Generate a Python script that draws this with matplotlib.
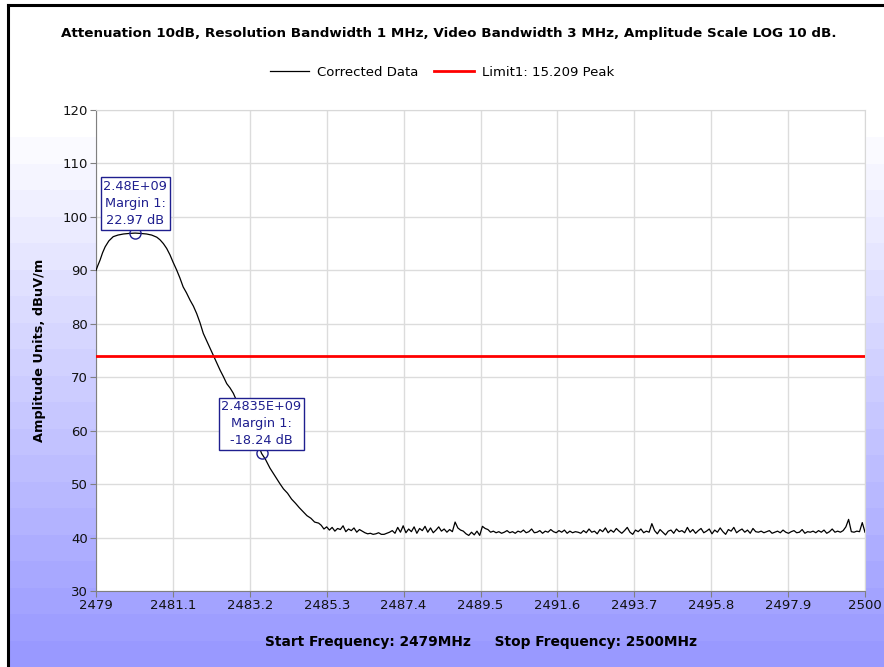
import numpy as np
import matplotlib
matplotlib.use("Agg")
import matplotlib.pyplot as plt
from matplotlib.lines import Line2D

# sweep settings
start_mhz = 2479.0
stop_mhz = 2500.0
x_ticks = [2479, 2481.1, 2483.2, 2485.3, 2487.4, 2489.5, 2491.6, 2493.7, 2495.8, 2497.9, 2500]
x_tick_labels = ["2479", "2481.1", "2483.2", "2485.3", "2487.4", "2489.5",
                 "2491.6", "2493.7", "2495.8", "2497.9", "2500"]
y_ticks = [30, 40, 50, 60, 70, 80, 90, 100, 110, 120]

limit_level = 74.0

# band edge roll-off
rolloff_freq = [2479.0, 2479.05, 2479.11, 2479.18, 2479.25, 2479.35, 2479.47, 2479.6, 2479.75,
                2479.9, 2480.07, 2480.22, 2480.38, 2480.52, 2480.66, 2480.75, 2480.84, 2480.93,
                2481.02, 2481.1, 2481.2, 2481.29, 2481.38, 2481.47, 2481.57, 2481.66, 2481.75,
                2481.84, 2481.93, 2482.05, 2482.2, 2482.3, 2482.39, 2482.48, 2482.57, 2482.66,
                2482.75, 2482.84, 2482.93, 2483.02, 2483.12, 2483.21, 2483.3, 2483.41, 2483.52,
                2483.63, 2483.75, 2483.88, 2484.02, 2484.12, 2484.23, 2484.34, 2484.45, 2484.55,
                2484.66, 2484.76, 2484.87, 2484.97, 2485.08]
rolloff_level = [90.0, 90.9, 91.9, 93.3, 94.4, 95.5, 96.3, 96.6, 96.8,
                 96.9, 96.97, 96.9, 96.8, 96.6, 96.2, 95.7, 95.0, 94.1,
                 92.9, 91.6, 90.1, 88.6, 86.9, 85.8, 84.4, 83.3, 81.9,
                 80.2, 78.2, 76.4, 74.2, 72.6, 71.3, 70.1, 68.8, 68.0,
                 67.0, 65.6, 64.5, 63.5, 62.3, 60.7, 59.5, 57.9, 55.76,
                 54.6, 53.0, 51.6, 50.1, 49.1, 48.3, 47.2, 46.4, 45.6,
                 44.8, 44.1, 43.6, 42.9, 42.7]

# noise floor, 2485.15 .. 2500 MHz
floor_level = [
    42.3, 41.6, 42.0, 41.4, 41.9, 41.2, 41.7, 41.5, 42.2, 41.1, 41.6, 41.3, 41.8, 41.0, 41.5, 41.2,
    40.9, 40.7, 40.8, 40.6, 40.7, 40.9, 40.6, 40.6, 40.8, 41.0,
    41.3, 40.8, 41.9, 41.0, 42.2, 40.9, 41.6, 41.1, 42.0, 40.8, 41.7, 41.3, 42.1, 41.0, 41.8, 40.9,
    41.4, 42.0, 41.2, 41.6, 41.0, 41.5, 41.1, 42.9,
    41.8, 41.4, 41.2, 40.7, 40.4, 41.0, 40.5, 41.2, 40.4, 42.1, 41.7,
    41.5, 41.0, 41.2, 40.9, 41.1, 40.8, 41.0, 41.3, 40.9, 41.1, 40.8, 41.2, 41.0, 41.4, 40.9, 41.1,
    41.6, 40.9, 41.0, 41.3, 40.8, 41.2, 41.0, 41.5, 41.1, 40.9, 41.3, 41.0, 41.4, 40.8, 41.2, 40.9,
    41.1, 41.0,
    40.8, 41.3, 40.9, 41.6, 41.0, 41.2, 40.7, 41.5, 41.1, 41.8,
    40.9, 41.4, 41.0, 41.7, 41.2, 40.8, 41.3, 41.9, 41.0, 40.6,
    41.4, 41.1, 41.6, 40.9, 41.2, 41.0, 42.6, 41.3, 40.7, 41.5,
    41.0, 40.5, 41.2, 41.4, 40.8, 41.6, 41.1, 41.3, 40.9, 41.9,
    41.0, 41.5, 40.8, 41.3, 41.7, 40.9, 41.2, 41.6, 40.7, 41.4,
    41.0, 41.8, 41.1, 40.6, 41.5, 41.2, 41.9, 40.9, 41.3, 41.6,
    41.0, 41.4, 40.8, 41.7, 41.1,
    41.0, 41.2, 40.9, 41.1, 41.3, 40.8, 41.0, 41.2, 40.9, 41.4,
    41.0, 40.8, 41.1, 41.3, 40.9, 41.0, 41.5, 40.8, 41.1, 41.0,
    41.2, 40.9, 41.3, 41.0, 41.4, 40.8, 41.1, 41.6, 41.0, 41.2,
    41.0, 41.3, 42.0, 43.4, 41.1, 41.0, 41.2, 41.1, 42.8, 41.0,
]
floor_start = 2485.15

# markers
marker_freq = [2480.07, 2483.52]
marker_level = [96.97, 55.76]
marker_text = ["2.48E+09\nMargin 1:\n22.97 dB", "2.4835E+09\nMargin 1:\n-18.24 dB"]

freq = np.concatenate([rolloff_freq, np.linspace(floor_start, stop_mhz, len(floor_level))])
level = np.concatenate([rolloff_level, floor_level])

W, H = 884, 667
fig = plt.figure(figsize=(W / 100, H / 100), dpi=100)
fig.patch.set_facecolor("white")

# stepped blue background
bg = fig.add_axes([0, 0, 1, 1], zorder=-10)
bg.set_xlim(0, W)
bg.set_ylim(H, 0)
bg.axis("off")
n_bands = 20
band_top = 137
band_h = (H - band_top) / n_bands
top_c = np.array([1.0, 1.0, 1.0])
bot_c = np.array([153, 153, 255]) / 255
for k in range(n_bands):
    t = (k + 1) / n_bands
    c = top_c + (bot_c - top_c) * t
    bg.add_patch(plt.Rectangle((0, band_top + k * band_h), W, band_h + 0.5, color=c, lw=0))
# outer frame (top and left)
bg.add_patch(plt.Rectangle((0, 0), 7, H, color="white", lw=0))
bg.add_patch(plt.Rectangle((0, 0), W, 4, color="white", lw=0))
bg.add_line(Line2D([8, W], [5, 5], color="black", lw=2.2))
bg.add_line(Line2D([8, 8], [5, H], color="black", lw=2.2))

ax = fig.add_axes([96 / W, 1 - 591 / H, (865 - 96) / W, (591 - 110) / H])
ax.set_facecolor("white")
ax.set_xlim(start_mhz, stop_mhz)
ax.set_ylim(30, 120)
ax.set_xticks(x_ticks)
ax.set_xticklabels(x_tick_labels)
ax.set_yticks(y_ticks)
ax.grid(True, color="#dcdcdc", lw=1.0)
ax.set_axisbelow(True)
for s in ["top", "right"]:
    ax.spines[s].set_color("#d8d8d8")
for s in ["left", "bottom"]:
    ax.spines[s].set_color("#808080")
ax.tick_params(direction="out", length=4, color="#808080", labelsize=9.5, labelcolor="#111111", pad=2)

ax.plot(freq, level, color="black", lw=0.9, label="Corrected Data", zorder=3)
ax.axhline(limit_level, color="#ff0000", lw=2.0, label="Limit1: 15.209 Peak", zorder=4)

for f, v, t in zip(marker_freq, marker_level, marker_text):
    ax.plot(f, v, "o", ms=8, mfc="none", mec="#1f1f8f", mew=1.0, zorder=5)
    ax.annotate(t, (f, v), xytext=(0, 6), textcoords="offset pixels", ha="center", va="bottom",
                fontsize=9.3, color="#1f1f8f", linespacing=1.4, zorder=6,
                bbox=dict(boxstyle="square,pad=0.2", fc="white", ec="#1f1f8f", lw=1.0))

ax.set_ylabel("Amplitude Units, dBuV/m", fontsize=9.3, fontweight="bold", labelpad=12)
ax.set_xlabel("Start Frequency: 2479MHz     Stop Frequency: 2500MHz", fontsize=9.9,
              fontweight="bold", labelpad=16)

fig.text(0.5 + 0.008, 1 - 33 / H, "Attenuation 10dB, Resolution Bandwidth 1 MHz, Video Bandwidth 3 MHz, Amplitude Scale LOG 10 dB.",
         ha="center", va="center", fontsize=9.7, fontweight="bold")

fig.legend(loc="center", bbox_to_anchor=(0.5, 1 - 72 / H), ncol=2, frameon=False,
           fontsize=9.5, handlelength=3.0, columnspacing=1.2, handletextpad=0.6)

fig.savefig("out.png", dpi=100)
